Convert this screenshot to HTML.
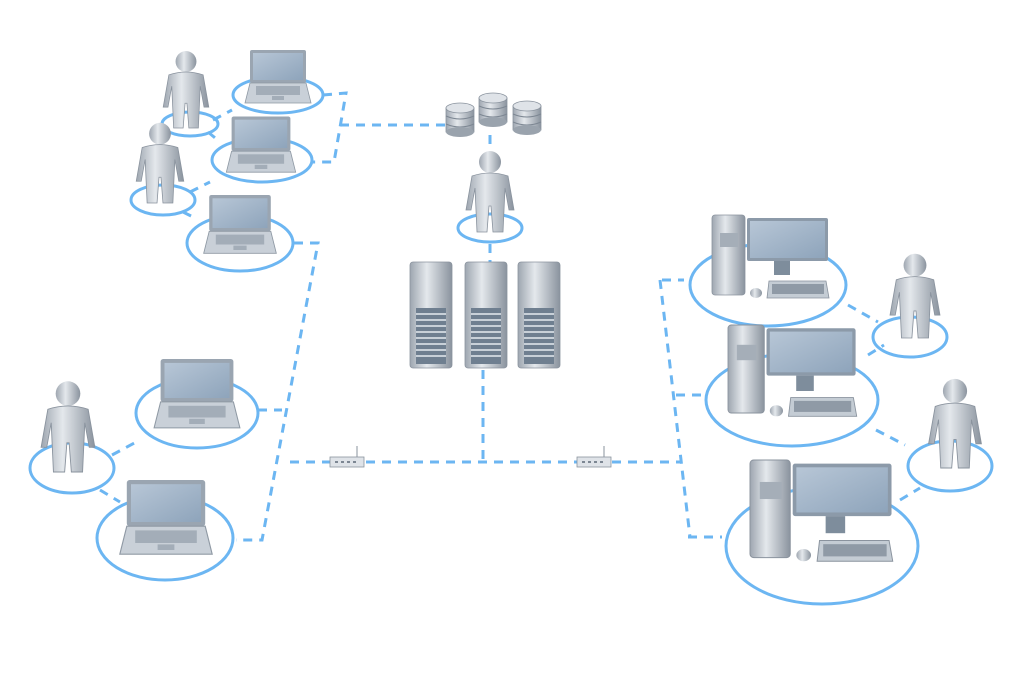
<!DOCTYPE html>
<html><head><meta charset="utf-8"><style>
html,body{margin:0;padding:0;background:#fff;}
svg{display:block;}
</style></head><body>
<svg width="1024" height="683" viewBox="0 0 1024 683" xmlns="http://www.w3.org/2000/svg">
<defs>
<linearGradient id="g" x1="0" y1="0" x2="1" y2="0">
<stop offset="0" stop-color="#9ea6b0"/><stop offset="0.4" stop-color="#e4e8ec"/><stop offset="1" stop-color="#8a939e"/>
</linearGradient>
<linearGradient id="scr" x1="0" y1="0" x2="1" y2="1">
<stop offset="0" stop-color="#b7c6d6"/><stop offset="1" stop-color="#8ea4bb"/>
</linearGradient>
<g id="person">
<circle cx="0" cy="-70" r="11" fill="url(#g)"/>
<path d="M-18,-56 Q0,-62 18,-56 L24,-22 L19,-22 L15,-44 L13,0 L3,0 L1,-26 L-1,-26 L-3,0 L-13,0 L-15,-44 L-19,-22 L-24,-22 Z" fill="url(#g)" stroke="#8a939e" stroke-width="0.8"/>
</g>
<g id="laptop">
<rect x="-28" y="-30" width="56" height="33" rx="2" fill="#9aa5b1"/>
<rect x="-25" y="-27" width="50" height="27" fill="url(#scr)"/>
<path d="M-28,3 L28,3 L33,23 L-33,23 Z" fill="#c9d0d8" stroke="#8f99a4" stroke-width="0.8"/>
<rect x="-22" y="6" width="44" height="9" fill="#a3adb8"/>
<rect x="-6" y="16" width="12" height="4" fill="#a3adb8"/>
</g>
<g id="desktop">
<rect x="0" y="0" width="33" height="80" rx="3" fill="url(#g)" stroke="#8a939e" stroke-width="0.8"/>
<rect x="8" y="18" width="18" height="14" fill="#a5aeb8"/>
<rect x="35" y="3" width="81" height="43" rx="2" fill="#8c9aa9"/>
<rect x="38" y="6" width="75" height="37" fill="url(#scr)"/>
<rect x="62" y="46" width="16" height="14" fill="#7e8d9c"/>
<path d="M57,66 L114,66 L117,83 L55,83 Z" fill="#c4ccd4" stroke="#8a939e" stroke-width="0.8"/>
<rect x="60" y="69" width="52" height="10" fill="#8f9aa6"/>
<ellipse cx="44" cy="78" rx="6" ry="5" fill="url(#g)"/>
</g>
<g id="server">
<rect x="0" y="0" width="42" height="106" rx="3" fill="url(#g)" stroke="#8a939e" stroke-width="0.8"/>
<rect x="6" y="46" width="30" height="56" fill="#6f7f90"/>
<g stroke="#c8d0d8" stroke-width="2"><line x1="6" y1="52" x2="36" y2="52"/><line x1="6" y1="58" x2="36" y2="58"/><line x1="6" y1="64" x2="36" y2="64"/><line x1="6" y1="70" x2="36" y2="70"/><line x1="6" y1="76" x2="36" y2="76"/><line x1="6" y1="82" x2="36" y2="82"/><line x1="6" y1="88" x2="36" y2="88"/><line x1="6" y1="94" x2="36" y2="94"/></g>
</g>
<g id="db">
<rect x="-14" y="-12" width="28" height="24" fill="url(#g)" stroke="#8a939e" stroke-width="0.8"/>
<ellipse cx="0" cy="-12" rx="14" ry="5" fill="#dfe3e8" stroke="#8a939e" stroke-width="0.8"/>
<g stroke="#7d8793" stroke-width="1"><path d="M-14,-4 Q0,2 14,-4" fill="none"/><path d="M-14,4 Q0,10 14,4" fill="none"/></g>
<ellipse cx="0" cy="12" rx="14" ry="5" fill="#9aa3ad"/>
</g>
<g id="router">
<rect x="-17" y="-5" width="34" height="10" fill="#dfe3e8" stroke="#8a939e" stroke-width="0.8"/>
<line x1="10" y1="-5" x2="10" y2="-16" stroke="#8a939e" stroke-width="1"/>
<g fill="#7d8793"><rect x="-12" y="-1" width="3" height="2"/><rect x="-6" y="-1" width="3" height="2"/><rect x="0" y="-1" width="3" height="2"/><rect x="6" y="-1" width="3" height="2"/></g>
</g>
</defs>

<g fill="none" stroke="#6cb6f2" stroke-width="3">
<ellipse cx="278" cy="95" rx="45" ry="18"/>
<ellipse cx="190" cy="124" rx="28" ry="12"/>
<ellipse cx="262" cy="160" rx="50" ry="22"/>
<ellipse cx="163" cy="200" rx="32" ry="15"/>
<ellipse cx="240" cy="243" rx="53" ry="28"/>
<ellipse cx="490" cy="228" rx="32" ry="14"/>
<ellipse cx="197" cy="413" rx="61" ry="35"/>
<ellipse cx="72" cy="468" rx="42" ry="25"/>
<ellipse cx="165" cy="538" rx="68" ry="42"/>
<ellipse cx="768" cy="285" rx="78" ry="41"/>
<ellipse cx="792" cy="400" rx="86" ry="46"/>
<ellipse cx="822" cy="546" rx="96" ry="58"/>
<ellipse cx="910" cy="337" rx="37" ry="20"/>
<ellipse cx="950" cy="466" rx="42" ry="25"/>
</g>
<g fill="none" stroke="#6cb6f2" stroke-width="3" stroke-dasharray="9,7">
<path d="M323,95 L346,93 L334,162 L313,162"/>
<path d="M340,125 L445,125"/>
<path d="M294,243 L318,243 L262,540 L236,540"/>
<path d="M258,410 L282,410"/>
<path d="M290,462 L330,462"/>
<path d="M366,462 L578,462"/>
<path d="M612,462 L680,462"/>
<path d="M483,370 L483,460"/>
<path d="M490,244 L490,262"/>
<path d="M490,135 L490,150"/>
<path d="M660,280 L690,537"/>
<path d="M662,280 L684,280"/>
<path d="M676,395 L702,395"/>
<path d="M688,537 L722,537"/>
<path d="M213,120 L232,110"/>
<path d="M208,132 L220,142"/>
<path d="M190,192 L210,182"/>
<path d="M183,212 L195,218"/>
<path d="M112,455 L140,440"/>
<path d="M100,490 L120,502"/>
<path d="M848,305 L878,322"/>
<path d="M868,355 L884,345"/>
<path d="M876,430 L905,445"/>
<path d="M900,500 L920,488"/>
</g>

<use href="#db" x="460" y="120"/>
<use href="#db" x="493" y="110"/>
<use href="#db" x="527" y="118"/>

<use href="#server" x="410" y="262"/>
<use href="#server" x="465" y="262"/>
<use href="#server" x="518" y="262"/>

<use href="#router" x="347" y="462"/>
<use href="#router" x="594" y="462"/>

<use href="#laptop" transform="translate(278,80) scale(1)"/>
<use href="#laptop" transform="translate(261,148) scale(1.05)"/>
<use href="#laptop" transform="translate(240,228) scale(1.1)"/>
<use href="#laptop" transform="translate(197,398) scale(1.3)"/>
<use href="#laptop" transform="translate(166,522) scale(1.4)"/>

<use href="#person" transform="translate(186,128) scale(0.95)"/>
<use href="#person" transform="translate(160,203) scale(0.99)"/>
<use href="#person" transform="translate(490,232) scale(1)"/>
<use href="#person" transform="translate(68,472) scale(1.12)"/>
<use href="#person" transform="translate(915,338) scale(1.04)"/>
<use href="#person" transform="translate(955,468) scale(1.1)"/>

<use href="#desktop" transform="translate(712,215) scale(1)"/>
<use href="#desktop" transform="translate(728,325) scale(1.1)"/>
<use href="#desktop" transform="translate(750,460) scale(1.22)"/>
</svg>
</body></html>
